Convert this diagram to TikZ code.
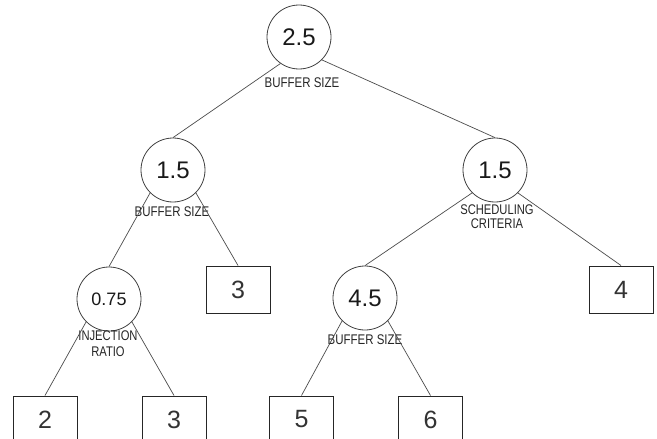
\documentclass[tikz,border=0pt]{standalone}
\usepackage{fontspec}
\usepackage{graphicx}
\setmainfont{Liberation Sans}
\begin{document}
\begin{tikzpicture}[x=1pt,y=-1pt,
  decision/.style={circle,draw=black!75,line width=0.8pt,minimum size=64pt,inner sep=0pt,
    font=\fontsize{24}{24}\selectfont,text=black!90},
  smalldecision/.style={decision,font=\fontsize{18}{18}\selectfont},
  leaf/.style={rectangle,draw=black!85,line width=1pt,minimum width=64pt,minimum height=47pt,
    inner sep=0pt,font=\fontsize{25}{25}\selectfont,text=black!80},
  attr/.style={inner sep=0pt,text=black!85,font=\fontsize{14}{16}\selectfont},
  branch/.style={draw=black!70,line width=0.7pt}]
\clip (0,0) rectangle (657,439);
\fill[white] (0,0) rectangle (657,439);

% decision nodes
\node[decision] (root) at (299,37) {2.5};
\node[decision] (bl) at (173,170) {1.5};
\node[decision] (sc) at (495,170) {1.5};
\node[smalldecision] (inj) at (109,299) {0.75};
\node[decision] (br) at (365,298) {4.5};

% attribute labels under the decision nodes
\node[attr] (lroot) at (302,83) {\scalebox{0.82}[1]{BUFFER SIZE}};
\node[attr] (lbl) at (172,212) {\scalebox{0.82}[1]{BUFFER SIZE}};
\node[attr] (lsc1) at (497,210) {\scalebox{0.8}[1]{SCHEDULING}};
\node[attr] (lsc2) at (497,224) {\scalebox{0.8}[1]{CRITERIA}};
\node[attr] (linj1) at (108,335.5) {\scalebox{0.8}[1]{INJECTION}};
\node[attr] (linj2) at (108,352) {\scalebox{0.8}[1]{RATIO}};
\node[attr] (lbr) at (365,340) {\scalebox{0.82}[1]{BUFFER SIZE}};

% leaves
\node[leaf] (c3) at (238,289.5) {3};
\node[leaf] (c4) at (621,289.5) {4};
\node[leaf] (c2) at (45,419.5) {2};
\node[leaf] (c3b) at (174,419.5) {3};
\node[leaf] (c5) at (301.5,419.5) {5};
\node[leaf] (c6) at (430.5,419.5) {6};

% branches
\draw[branch] (root.-125) -- (bl.north);
\draw[branch] (root.-45) -- (sc.north);
\draw[branch] (bl.-135) -- (inj.north);
\draw[branch] (bl.-45) -- (c3.north);
\draw[branch] (sc.-135) -- (br.north);
\draw[branch] (sc.-45) -- (c4.north);
\draw[branch] (inj.-135) -- (c2.north);
\draw[branch] (inj.-45) -- (c3b.north);
\draw[branch] (br.-135) -- (c5.north);
\draw[branch] (br.-45) -- (c6.north);
\end{tikzpicture}
\end{document}
